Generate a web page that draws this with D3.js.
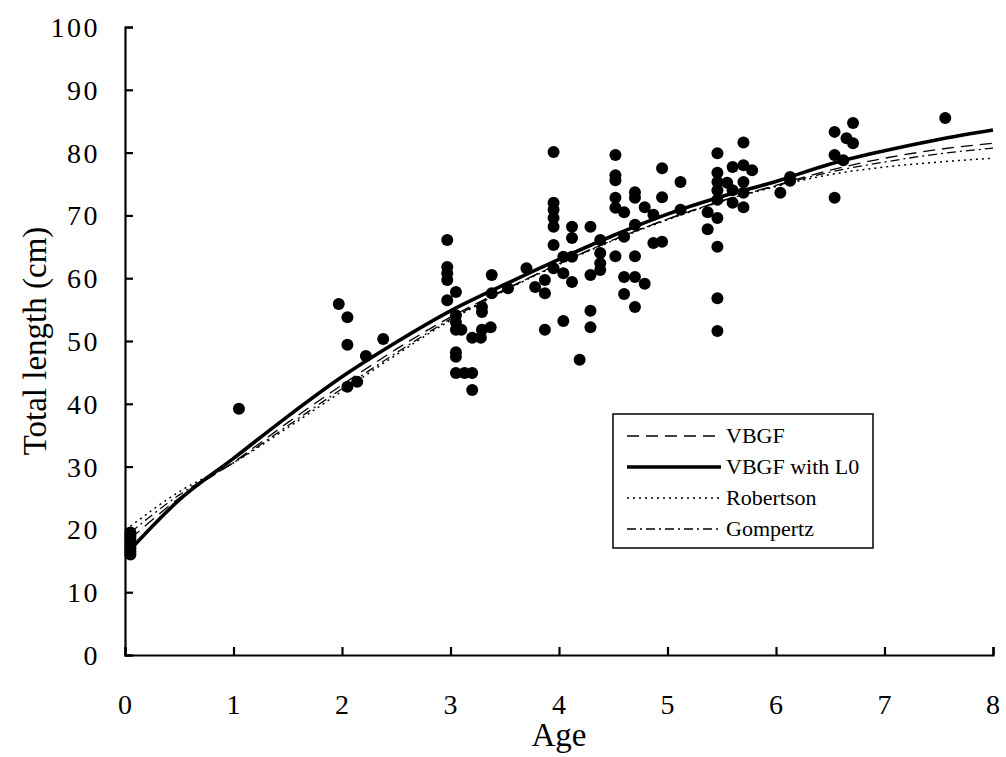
<!DOCTYPE html>
<html>
<head>
<meta charset="utf-8">
<script src="https://cdn.jsdelivr.net/npm/d3@7"></script>
<style>
  body { margin: 0; background: #fff; }
  text { font-family: "Liberation Serif", "DejaVu Serif", serif; fill: #000; }
</style>
</head>
<body>
<div id="chart"></div>
<script>
// observed ages and lengths
var obsAge = [0.05,0.05,0.05,0.05,0.05,0.05,0.05,0.05,
  1.05,
  1.97,2.05,2.05,2.05,2.14,2.22,2.38,
  2.97,2.97,2.97,2.97,2.97,3.05,3.05,3.05,3.05,3.1,3.05,3.05,3.05,3.13,3.2,3.2,3.2,3.28,3.29,3.37,3.29,3.29,3.38,3.38,3.53,3.7,3.78,3.87,3.87,3.87,
  3.95,3.95,3.95,3.95,3.95,3.95,3.95,4.04,4.04,4.04,4.12,4.12,4.12,4.12,4.19,4.29,4.29,4.29,4.29,4.38,4.38,4.38,4.38,
  4.52,4.52,4.52,4.52,4.52,4.52,4.6,4.6,4.6,4.6,4.7,4.7,4.7,4.7,4.7,4.7,4.79,4.79,4.87,4.87,4.95,4.95,4.95,5.12,5.12,
  5.37,5.37,5.46,5.46,5.46,5.46,5.46,5.46,5.46,5.46,5.46,5.55,5.6,5.6,5.6,5.7,5.7,5.7,5.7,5.7,5.78,6.04,6.13,6.13,
  6.54,6.54,6.54,6.65,6.71,6.71,6.62,7.56];
var obsLen = [16,16.5,17,17.5,18,18.5,19,19.5,
  39.2,
  55.9,53.8,49.4,42.7,43.5,47.6,50.3,
  66.1,61.8,60.8,59.7,56.5,57.8,54.1,53,51.8,51.8,48.2,47.5,44.9,44.9,44.9,42.2,50.5,50.5,51.8,52.2,55.4,54.6,60.5,57.6,58.4,61.6,58.6,59.7,57.6,51.8,
  80.1,72,70.9,69.6,68.2,65.3,61.6,63.4,60.8,53.2,68.2,66.4,63.4,59.4,47,68.2,60.5,54.8,52.2,66.1,64,62.4,61.3,
  79.6,76.4,75.6,72.8,71.2,63.5,70.5,66.6,60.2,57.5,73.7,72.8,68.5,63.5,60.2,55.4,71.3,59.1,70.1,65.6,77.5,72.9,65.8,75.3,70.9,
  70.5,67.8,79.9,76.8,75.3,74,72.5,69.6,65,56.8,51.6,75.2,77.7,74,72,81.6,78,75.3,73.6,71.3,77.2,73.6,76.1,75.5,
  83.3,79.6,72.8,82.3,84.7,81.5,78.8,85.5];

// fitted curves
var curveAge    = [0.05,0.5,1,1.5,2,2.5,3,3.5,4,4.5,5,5.5,6,6.5,7,7.5,8];
var vbgfL0      = [16.8,24.7,31.3,38,44.3,49.8,54.8,59,63,66.8,70.2,73,75.4,78.2,80.3,82.1,83.6];
var vbgf        = [18.5,25,30.7,37,43,48.7,53.8,58.2,62.3,66.1,69.4,72.3,74.8,77.2,79.1,80.5,81.5];
var robertson   = [20.5,26,30.6,36.2,42,47.8,53.3,58,62.2,66,69.3,72.2,74.6,76.5,77.7,78.5,79.1];
var gompertz    = [19.5,25.5,30.6,36.5,42.4,48.1,53.5,58.1,62.3,66.1,69.4,72.3,74.7,76.9,78.5,79.8,80.7];

var xTicks = [0,1,2,3,4,5,6,7,8];
var yTicks = [0,10,20,30,40,50,60,70,80,90,100];

var width = 1006, height = 757;
var margin = {top: 27, right: 13, bottom: 102, left: 125};

var svg = d3.select("#chart").append("svg")
    .attr("width", width)
    .attr("height", height);

var x = d3.scaleLinear().domain([0, 8]).range([margin.left, width - margin.right]);
var y = d3.scaleLinear().domain([0, 100]).range([height - margin.bottom, margin.top]);

// axes (ticks pointing inward)
var xAxis = svg.append("g")
    .attr("transform", "translate(0," + y(0) + ")")
    .call(d3.axisTop(x).tickValues(xTicks).tickSize(8).tickFormat(""));
xAxis.selectAll("line, path").attr("stroke", "#000").attr("stroke-width", 2.2);

var yAxis = svg.append("g")
    .attr("transform", "translate(" + x(0) + ",0)")
    .call(d3.axisRight(y).tickValues(yTicks).tickSize(8).tickFormat(""));
yAxis.selectAll("line, path").attr("stroke", "#000").attr("stroke-width", 2.2);

// tick labels
svg.selectAll(".xlab")
  .data(xTicks)
  .enter().append("text")
    .attr("x", d => x(d))
    .attr("y", y(0) + 59)
    .attr("text-anchor", "middle")
    .style("font-size", "28px")
    .text(d => d);

svg.selectAll(".ylab")
  .data(yTicks)
  .enter().append("text")
    .attr("x", x(0) - 25)
    .attr("y", d => y(d) + 10)
    .attr("text-anchor", "end")
    .style("font-size", "28px")
    .style("letter-spacing", "2.5px")
    .text(d => d);

// axis titles
svg.append("text")
    .attr("x", x(4))
    .attr("y", 746)
    .attr("text-anchor", "middle")
    .style("font-size", "33px")
    .text("Age");

svg.append("text")
    .attr("transform", "translate(46," + y(50) + ") rotate(-90)")
    .attr("text-anchor", "middle")
    .style("font-size", "33px")
    .text("Total length (cm)");

// points
svg.selectAll(".dot")
  .data(obsAge.map((a, i) => ({age: a, len: obsLen[i]})))
  .enter().append("circle")
    .attr("cx", d => x(d.age))
    .attr("cy", d => y(d.len))
    .attr("r", 6)
    .attr("fill", "#000");

// curves
var series = [
  {name: "VBGF", vals: vbgf, width: 1.3, dash: "12,7"},
  {name: "VBGF with L0", vals: vbgfL0, width: 3.6, dash: null},
  {name: "Robertson", vals: robertson, width: 1.5, dash: "2,4"},
  {name: "Gompertz", vals: gompertz, width: 1.3, dash: "9,4,2,4"}
];

var line = d3.line()
    .x(d => x(d[0]))
    .y(d => y(d[1]))
    .curve(d3.curveMonotoneX);

svg.selectAll(".fit")
  .data([series[2], series[3], series[0], series[1]])
  .enter().append("path")
    .attr("d", s => line(curveAge.map((a, i) => [a, s.vals[i]])))
    .attr("fill", "none")
    .attr("stroke", "#000")
    .attr("stroke-width", s => s.width)
    .attr("stroke-dasharray", s => s.dash);

// legend
var lg = svg.append("g").attr("transform", "translate(613,414)");
lg.append("rect")
    .attr("width", 260)
    .attr("height", 134)
    .attr("fill", "#fff")
    .attr("stroke", "#000")
    .attr("stroke-width", 1.5);

var rows = lg.selectAll(".row")
  .data(series)
  .enter().append("g")
    .attr("transform", (d, i) => "translate(0," + (22 + i * 31) + ")");
rows.append("line")
    .attr("x1", 14).attr("x2", 108)
    .attr("stroke", "#000")
    .attr("stroke-width", d => d.width)
    .attr("stroke-dasharray", d => d.dash);
rows.append("text")
    .attr("x", 113)
    .attr("y", 7)
    .style("font-size", "22px")
    .text(d => d.name);
</script>
</body>
</html>
